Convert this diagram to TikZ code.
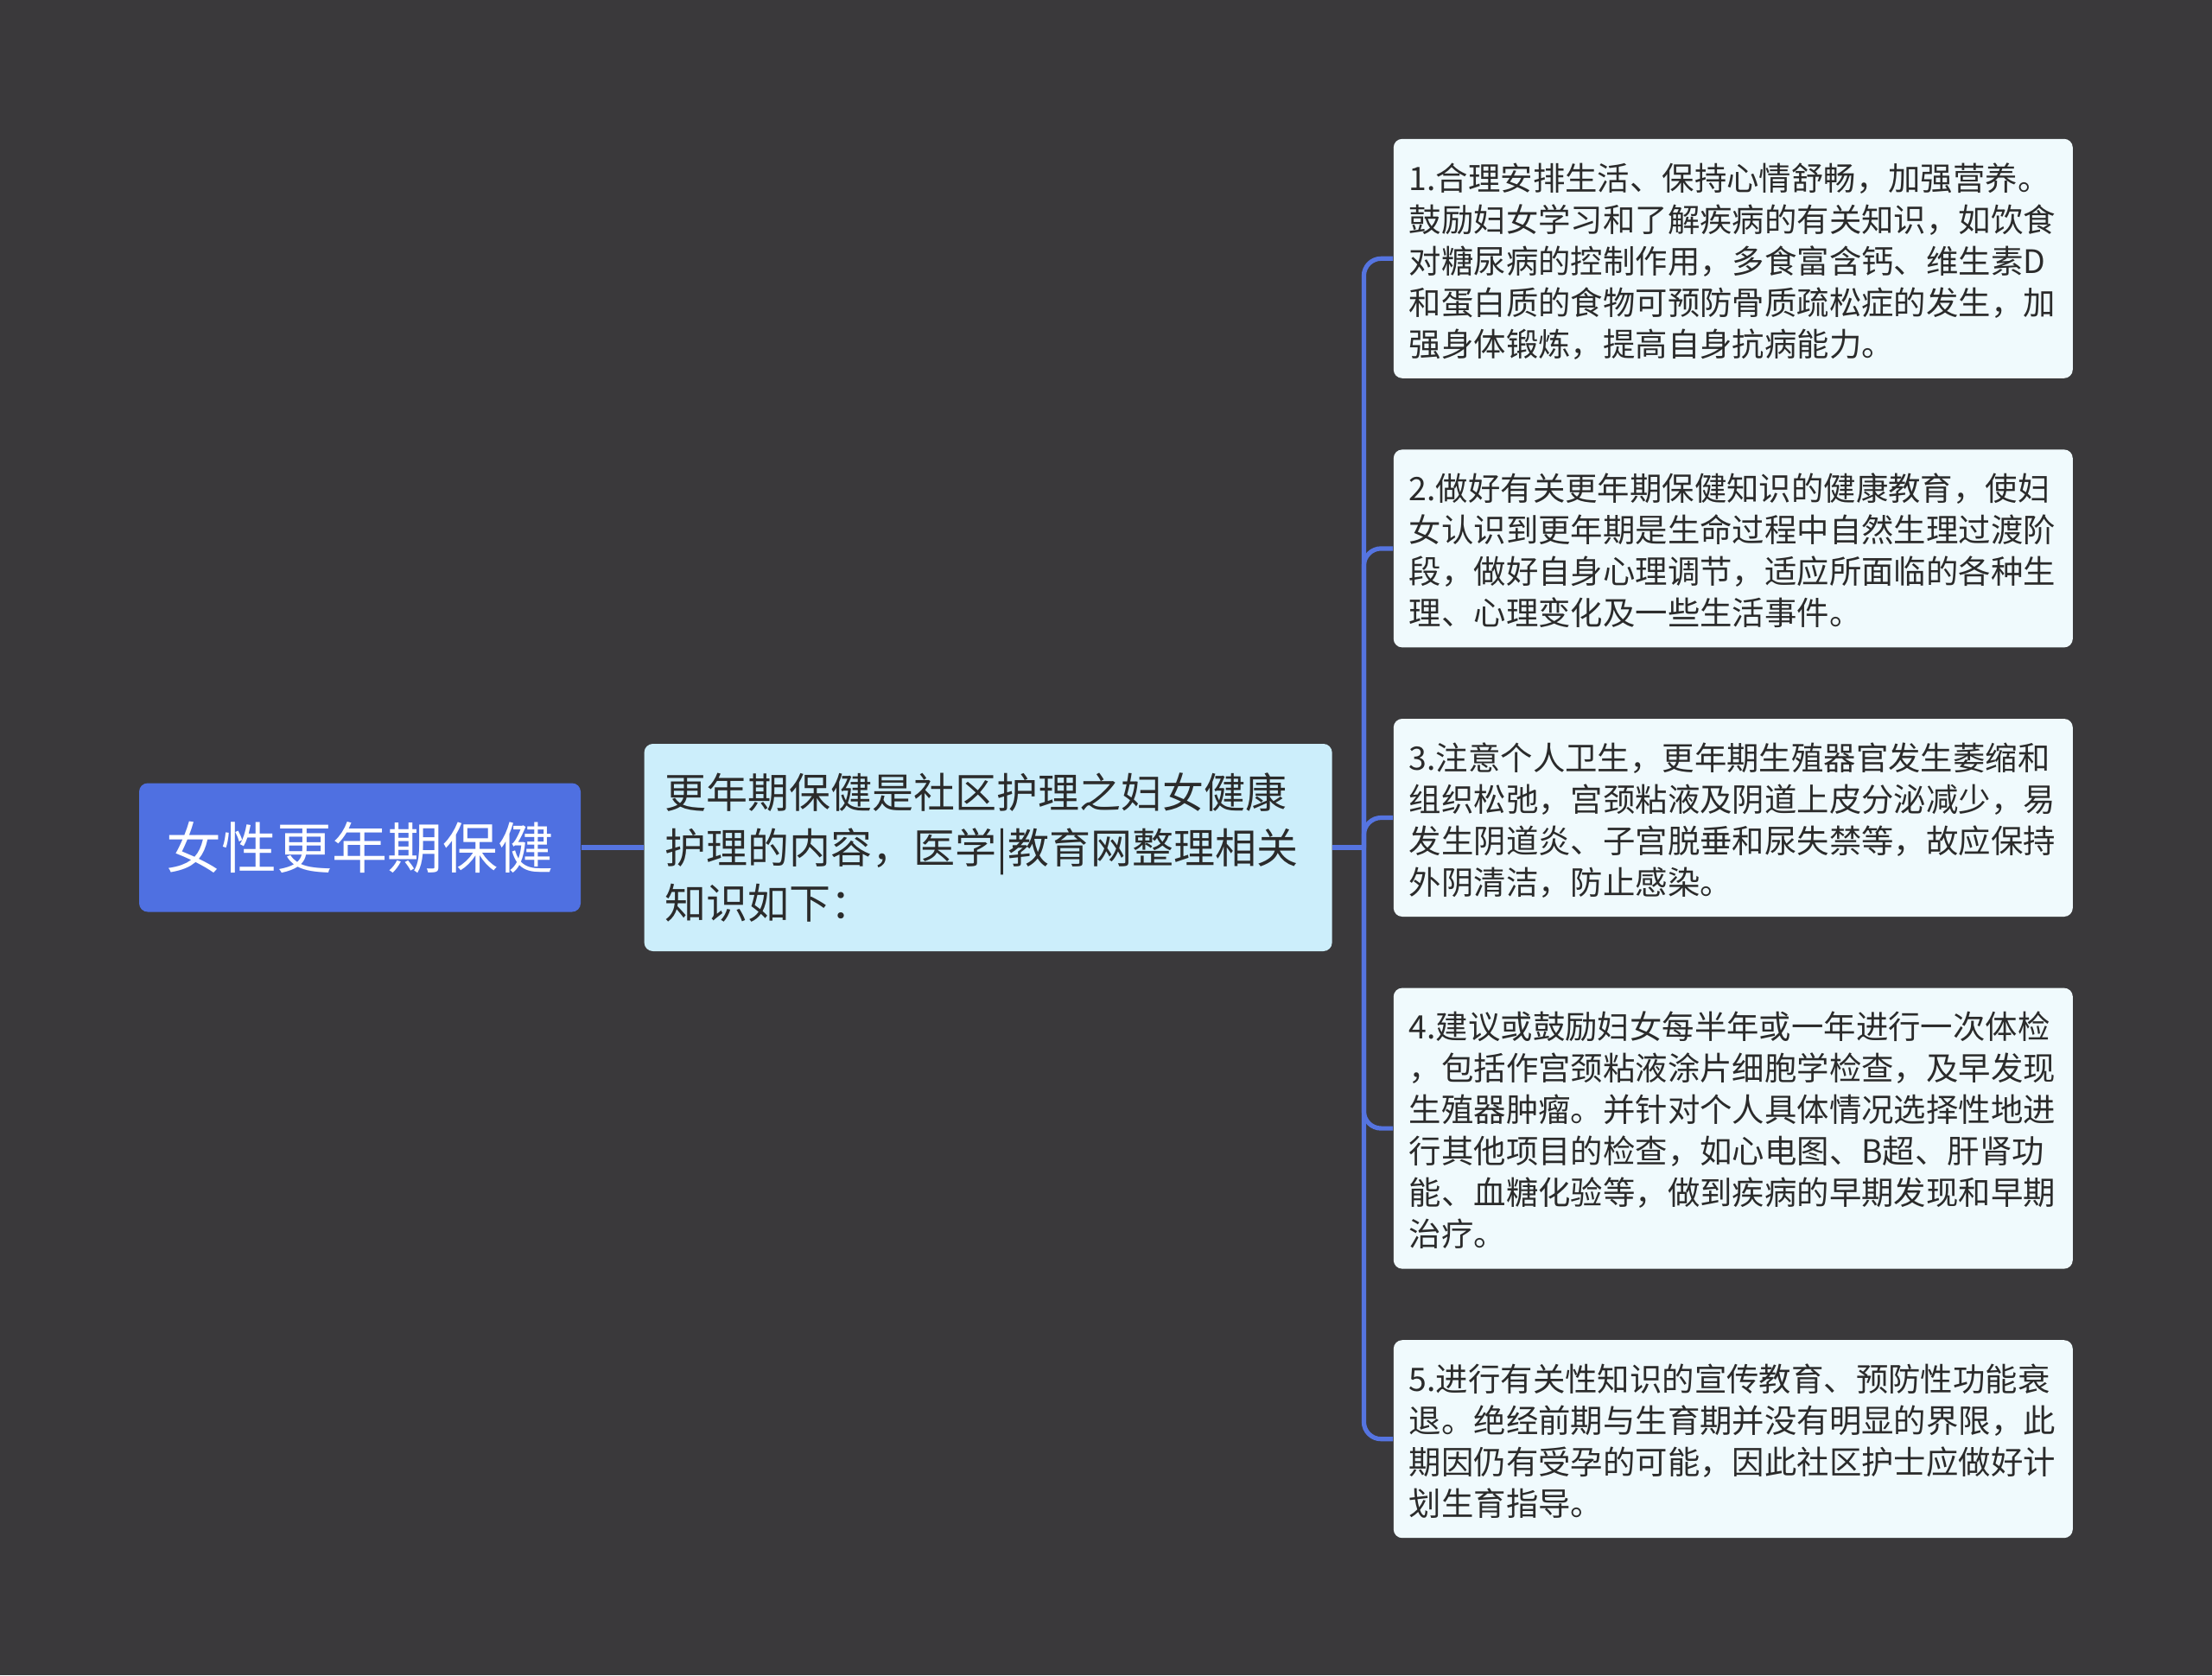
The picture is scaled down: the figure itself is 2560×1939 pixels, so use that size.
\documentclass[tikz,border=0pt]{standalone}
\usepackage{fontspec}
\newfontfamily\cjk{Noto Sans CJK SC}
\usetikzlibrary{positioning}
\definecolor{bgcol}{HTML}{3A393B}
\definecolor{rootcol}{HTML}{4F70E1}
\definecolor{linkcol}{HTML}{5574E0}
\definecolor{midcol}{HTML}{CCEEFB}
\definecolor{leafcol}{HTML}{F0FAFD}
\definecolor{inkcol}{HTML}{2B2B2B}
\newcommand{\midstrut}{\rule[-0.21\baselineskip]{0pt}{\baselineskip}}
\newcommand{\lnstrut}{\rule[-0.15\baselineskip]{0pt}{\baselineskip}}

\begin{document}
\begin{tikzpicture}[
			x=0.25pt, y=-0.25pt,
			node distance=20.25pt,
			box/.style={rounded corners=2.5pt, align=left, text=inkcol},
			root/.style={box, fill=rootcol, text=white, align=center, inner sep=0pt,
				minimum width=127.75pt, minimum height=37.25pt,
				font=\cjk\fontsize{16pt}{20pt}\selectfont},
			mid/.style={box, fill=midcol, text width=187pt, inner xsep=6pt, inner ysep=6pt,
				font=\cjk\fontsize{12pt}{16pt}\selectfont},
			leaf/.style={box, fill=leafcol, text width=187.5pt, inner xsep=4.5pt, inner ysep=4.625pt,
				font=\cjk\fontsize{9.35pt}{12pt}\selectfont},
			link/.style={draw=linkcol, line width=1.3pt, rounded corners=5pt}
		]
		\fill[bgcol] (0,0) rectangle (2560,1939);
		\useasboundingbox (0,0) rectangle (2560,1939);
		\node[root] (root) at (416.5,981) {女性更年期保健};
		\node[mid, right=18pt of root] (mid) {\midstrut 更年期保健是社区护理之妇女健康\\
			护理的内容，医学|教育网整理相关\\
			知识如下：\midstrut};
		\coordinate[right=9pt of mid] (fork);
		\node[leaf, anchor=north west] (t1) at (1612,160) {\lnstrut 1.合理安排生活、保持心情舒畅，加强营养。\\
			鼓励妇女学习和了解疾病的有关知识，如饮食\\
			对糖尿病的控制作用，多食富含钙、维生素D\\
			和蛋白质的食物可预防骨质疏松症的发生，加\\
			强身体锻炼，提高自身抗病能力。\lnstrut};
		\node[leaf, below=of t1] (t2) {\lnstrut 2.做好有关更年期保健知识的健康教育，使妇\\
			女认识到更年期是生命过程中自然生理过渡阶\\
			段，做好自身心理调节，适应所面临的各种生\\
			理、心理变化及一些生活事件。\lnstrut};
		\node[leaf, below=of t2] (t3) {\lnstrut 3.注意个人卫生，更年期生殖器官发生萎缩和\\
			组织松弛，宫颈粘液及阴道上皮分泌减少，易\\
			发生阴道炎、子宫脱垂和尿失禁等，故应保持\\
			外阴清洁，防止感染。\lnstrut};
		\node[leaf, below=of t3] (t4) {\lnstrut 4.建议或鼓励妇女每半年或一年进行一次体检\\
			，包括作宫颈粘液涂片细胞学检查，及早发现\\
			生殖器肿瘤。并针对个人具体情况选择性地进\\
			行其他项目的检查，如心电图、B超、肝肾功\\
			能、血糖化验等，做到疾病的早期发现和早期\\
			治疗。\lnstrut};
		\node[leaf, below=of t4] (t5) {\lnstrut 5.进行有关性知识的宣传教育、预防性功能衰\\
			退。绝经前期与生育期并没有明显的界限，此\\
			期因仍有受孕的可能，因此社区护士应做好计\\
			划生育指导。\lnstrut};
		\draw[link] (root) -- (mid);
		\draw[link] (mid) -- (fork);
		\foreach \t in {t1,t2,t3,t4,t5}
			\draw[link] (fork) |- (\t.west);
	\end{tikzpicture}
\end{document}
